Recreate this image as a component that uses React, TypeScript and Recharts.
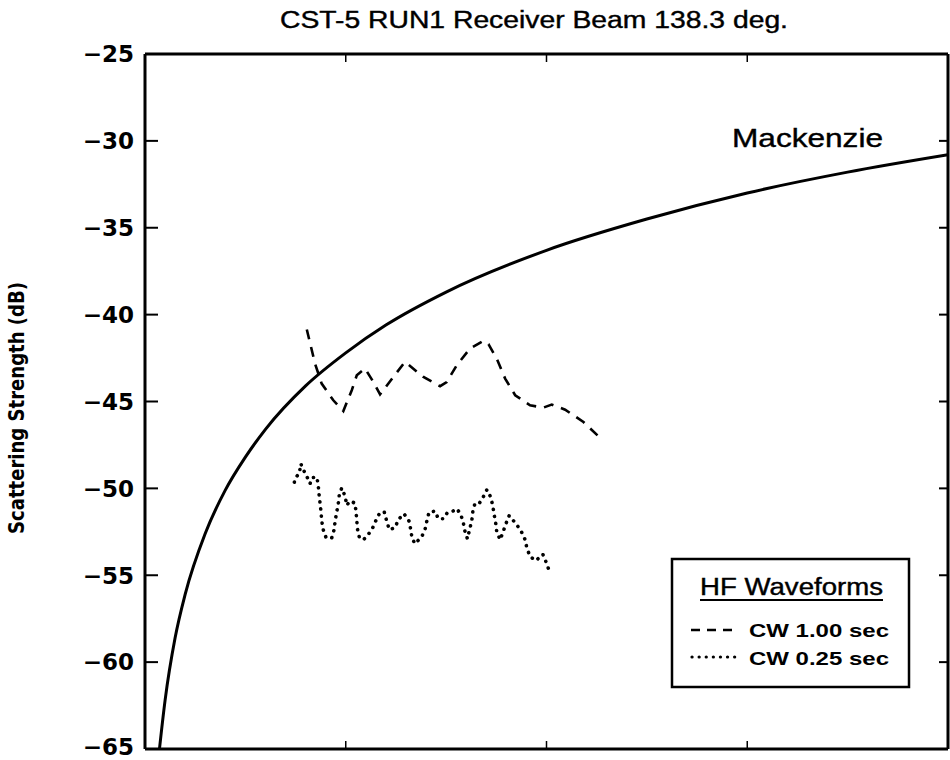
import React from 'react';
import { LineChart, Line, XAxis, YAxis } from 'recharts';

// ---- axis ticks ----
const angleTicks = [10, 20, 30];
const levelTicks = [-65, -60, -55, -50, -45, -40, -35, -30, -25];

// ---- Mackenzie curve ----
const mackAngle = [0.72, 1, 1.5, 2, 3, 4, 5, 6, 8, 10, 12, 15, 20, 25, 30, 35, 40];
const mackLevel = [-65, -62.2, -58.6, -56.1, -52.6, -50.1, -48.2, -46.6, -44.1, -42.2, -40.6, -38.7, -36.3, -34.5, -33.0, -31.8, -30.8];

// ---- CW 1.00 sec (dashed) ----
const cw100Angle = [8.06, 8.47, 8.8, 9.38, 9.88, 10.3, 10.55, 10.96, 11.38, 11.71, 12.37, 12.95, 13.87, 14.7, 15.03, 15.53, 16.19, 16.86, 17.11, 17.52, 17.94, 18.44, 19.18, 19.85, 20.26, 20.93, 21.84, 22.76];
const cw100Level = [-40.86, -42.82, -43.97, -44.93, -45.55, -44.35, -43.49, -43.1, -43.88, -44.59, -43.59, -42.72, -43.59, -44.12, -43.88, -42.91, -41.95, -41.51, -41.7, -42.53, -43.68, -44.64, -45.22, -45.35, -45.18, -45.47, -46.18, -47.19];

// ---- CW 0.25 sec (dotted) ----
const cw025Angle = [7.44, 7.47, 7.69, 7.76, 7.92, 8.06, 8.22, 8.34, 8.56, 8.63, 8.67, 8.72, 8.77, 8.8, 8.88, 9.02, 9.3, 9.42, 9.47, 9.55, 9.63, 9.68, 9.8, 9.97, 10.05, 10.21, 10.46, 10.51, 10.55, 10.58, 10.68, 10.88, 11.08, 11.3, 11.49, 11.71, 11.92, 12.04, 12.17, 12.46, 12.62, 12.9, 13.15, 13.24, 13.3, 13.45, 13.79, 13.95, 14.04, 14.15, 14.45, 14.61, 14.86, 15.06, 15.31, 15.53, 15.73, 15.86, 15.94, 16.06, 16.16, 16.28, 16.33, 16.44, 16.66, 16.83, 17.03, 17.22, 17.32, 17.39, 17.47, 17.52, 17.69, 17.85, 17.99, 18.14, 18.44, 18.72, 18.93, 19.02, 19.18, 19.47, 19.82, 19.98, 20.14];
const cw025Level = [-49.64, -49.44, -49.12, -48.58, -49.0, -49.31, -49.73, -49.38, -49.35, -49.83, -50.35, -50.85, -51.37, -51.85, -52.38, -52.84, -52.86, -52.38, -51.88, -51.37, -50.85, -50.36, -49.98, -50.46, -50.98, -50.73, -50.85, -51.33, -51.84, -52.32, -52.84, -52.96, -52.71, -52.38, -51.88, -51.37, -51.37, -51.88, -52.38, -52.26, -51.79, -51.46, -51.88, -52.38, -52.86, -53.19, -52.77, -52.36, -51.88, -51.37, -51.31, -51.75, -51.75, -51.4, -51.33, -51.17, -51.5, -52.0, -52.48, -52.9, -52.42, -51.84, -51.33, -50.85, -50.85, -50.54, -50.08, -50.5, -50.98, -51.5, -52.0, -52.48, -52.96, -52.46, -52.0, -51.57, -51.98, -52.42, -52.94, -53.42, -53.92, -54.16, -53.8, -54.24, -54.76];

const TITLE = 'CST-5  RUN1  Receiver Beam 138.3 deg.';
const Y_LABEL = 'Scattering Strength (dB)';
const LEGEND_TITLE = 'HF Waveforms';
const CW100_NAME = 'CW 1.00 sec';
const CW025_NAME = 'CW 0.25 sec';
const MACK_NAME = 'Mackenzie';

const rows = (xs: number[], ys: number[]) => xs.map((a, i) => ({ angle: a, level: ys[i] }));
const mackData = rows(mackAngle, mackLevel);
const cw100Data = rows(cw100Angle, cw100Level);
const cw025Data = rows(cw025Angle, cw025Level);

const SANS = '"Liberation Sans", Arial, sans-serif';
const ROUND = '"DejaVu Sans", sans-serif';
const DASH = '10 8';
const DOT = '0.1 7';

const fmt = (v: number) => (v < 0 ? '\u2212' + Math.abs(v) : String(v));

const LeftTick = (p: any) => (
  <g>
    <line x1={p.x} x2={p.x + 13} y1={p.y} y2={p.y} stroke="#000" strokeWidth={2} />
    <text x={p.x - 11} y={p.y} dy={p.payload.value === -65 ? '0.24em' : '0.36em'} textAnchor="end"
      fontFamily={ROUND} fontSize={23} fontWeight="bold" fill="#000">{fmt(p.payload.value)}</text>
  </g>
);
const RightTick = (p: any) => (
  <line x1={p.x} x2={p.x - 9} y1={p.y} y2={p.y} stroke="#000" strokeWidth={2} />
);
const BottomTick = (p: any) => (
  <line x1={p.x} x2={p.x} y1={p.y} y2={p.y - 8} stroke="#000" strokeWidth={1.5} />
);
const TopTick = (p: any) => (
  <line x1={p.x} x2={p.x} y1={p.y} y2={p.y + 8} stroke="#000" strokeWidth={1.5} />
);

const frame = { stroke: '#000', strokeWidth: 3 };

export default function App() {
  return (
    <div style={{ position: 'absolute', left: 0, top: 0, background: '#fff' }}>
      <LineChart width={950} height={760} margin={{ top: 53, right: 1, bottom: 10, left: 0 }}>
        <XAxis xAxisId="b" type="number" dataKey="angle" domain={[0, 40]} ticks={angleTicks}
          orientation="bottom" height={1} tickSize={0} tickMargin={0} tickLine={false} tick={BottomTick}
          interval={0} allowDataOverflow axisLine={frame} />
        <XAxis xAxisId="t" type="number" dataKey="angle" domain={[0, 40]} ticks={angleTicks}
          orientation="top" height={1} tickSize={0} tickMargin={0} tickLine={false} tick={TopTick}
          interval={0} allowDataOverflow axisLine={frame} />
        <YAxis yAxisId="l" type="number" domain={[-65, -25]} ticks={levelTicks} width={145}
          tickSize={0} tickMargin={0} tickLine={false} tick={LeftTick} interval={0} allowDataOverflow
          axisLine={frame} />
        <YAxis yAxisId="r" type="number" domain={[-65, -25]} ticks={levelTicks} orientation="right"
          width={1} tickSize={0} tickMargin={0} tickLine={false} tick={RightTick} interval={0} allowDataOverflow
          axisLine={frame} />

        <Line xAxisId="b" yAxisId="l" data={mackData} dataKey="level" name={MACK_NAME} type="monotone"
          stroke="#000" strokeWidth={3} dot={false} isAnimationActive={false} />
        <Line xAxisId="b" yAxisId="l" data={cw100Data} dataKey="level" name={CW100_NAME} type="linear"
          stroke="#000" strokeWidth={2.6} strokeDasharray={DASH} dot={false} isAnimationActive={false} />
        <Line xAxisId="b" yAxisId="l" data={cw025Data} dataKey="level" name={CW025_NAME} type="linear"
          stroke="#000" strokeWidth={3.6} strokeDasharray={DOT} strokeLinecap="round" dot={false} isAnimationActive={false} />
        <Line xAxisId="t" yAxisId="r" data={mackData} dataKey="level" legendType="none" stroke="none"
          strokeWidth={0} dot={false} activeDot={false} isAnimationActive={false} />

        <text x={534} y={28} textAnchor="middle" fontFamily={SANS} fontSize={23} fill="#000"
          stroke="#000" strokeWidth={0.4} textLength={508} lengthAdjust="spacingAndGlyphs">{TITLE}</text>
        <text x={24} y={408} textAnchor="middle" transform="rotate(-90 24 408)" fontFamily={ROUND}
          fontSize={22} fontWeight="bold" fill="#000" textLength={252} lengthAdjust="spacingAndGlyphs">{Y_LABEL}</text>
        <text x={732} y={147} fontFamily={SANS} fontSize={25} fill="#000" stroke="#000" strokeWidth={0.4}
          textLength={151} lengthAdjust="spacingAndGlyphs">{MACK_NAME}</text>

        <g>
          <rect x={672} y={559} width={237} height={128} fill="#fff" stroke="#000" strokeWidth={2.5} />
          <text x={791.5} y={595} textAnchor="middle" fontFamily={SANS} fontSize={23} fill="#000"
            stroke="#000" strokeWidth={0.4} textLength={183} lengthAdjust="spacingAndGlyphs">{LEGEND_TITLE}</text>
          <line x1={700} x2={883} y1={600} y2={600} stroke="#000" strokeWidth={1.8} />
          <line x1={691} x2={735} y1={630} y2={630} stroke="#000" strokeWidth={2.6} strokeDasharray="9 7" />
          <text x={749} y={637} fontFamily={SANS} fontSize={19} fontWeight="bold" fill="#000"
            textLength={140} lengthAdjust="spacingAndGlyphs">{CW100_NAME}</text>
          <line x1={692} x2={736} y1={657} y2={657} stroke="#000" strokeWidth={3.2} strokeDasharray={DOT} strokeLinecap="round" />
          <text x={749} y={665} fontFamily={SANS} fontSize={19} fontWeight="bold" fill="#000"
            textLength={140} lengthAdjust="spacingAndGlyphs">{CW025_NAME}</text>
        </g>
      </LineChart>
    </div>
  );
}
